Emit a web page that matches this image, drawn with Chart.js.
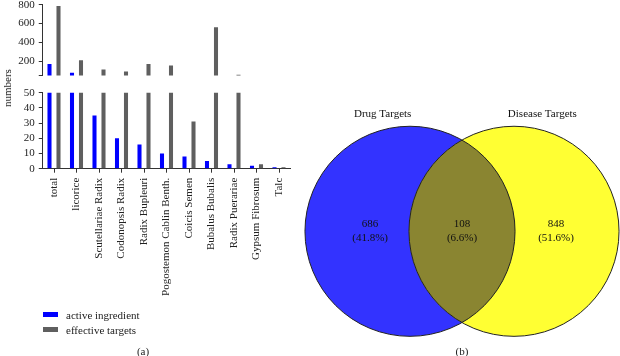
<!DOCTYPE html>
<html>
<head>
<meta charset="utf-8">
<script src="https://cdn.jsdelivr.net/npm/chart.js@4.4.0/dist/chart.umd.min.js"></script>
<style>
  html, body { margin: 0; padding: 0; background: #fff; }
  body { width: 620px; height: 356px; position: relative; overflow: hidden;
         font-family: 'Liberation Serif', 'Times New Roman', serif; color: #222; }
  canvas { position: absolute; }
  #upper { left: 0; top: -10px; }
  #lower { left: 0; top: 80px; }
  #venn { left: 300px; top: 0; }
  .ytitle { position: absolute; left: 7px; top: 88px; font-size: 11px; white-space: nowrap;
            transform: translate(-50%, -50%) rotate(-90deg); }
  .legend { position: absolute; left: 43px; top: 307.5px; font-size: 11px; }
  .legend div { height: 14.7px; display: flex; align-items: center; }
  .legend .box { display: inline-block; width: 15px; height: 5px; margin-right: 8px; }
  .cap { position: absolute; font-size: 11px; line-height: 12px; transform: translateX(-50%); }
</style>
</head>
<body>
<canvas id="upper" width="300" height="96"></canvas>
<canvas id="lower" width="300" height="229"></canvas>
<canvas id="venn" width="320" height="356"></canvas>
<div class="ytitle">numbers</div>
<div class="legend" id="legend"></div>
<div class="cap" style="left:143px;top:345px">(a)</div>
<div class="cap" style="left:462px;top:345px">(b)</div>
<script>
// panel (a): herbs and their counts
const herbs = ['total', 'licorice', 'Scutellariae Radix', 'Codonopsis Radix', 'Radix Bupleuri',
  'Pogostemon Cablin Benth.', 'Coicis Semen', 'Bubalus Bubalis', 'Radix Puerariae',
  'Gypsum Fibrosum', 'Talc'];
const activeIngredient = [171, 79, 35, 20, 16, 10, 8, 5, 3, 2, 1];
const effectiveTargets = [785, 211, 112, 92, 171, 155, 31, 562, 56, 3, 1];
const breakAt = 50;
const upperTicks = [breakAt, 200, 400, 600, 800];
const lowerTicks = [0, 10, 20, 30, 40, 50];

// panel (b): venn
const vennSets = ['Drug Targets', 'Disease Targets'];
const vennCounts = [686, 108, 848]; // drug only, shared, disease only

const BLUE = '#0000ff';
const GRAY = '#5f5f5f';
const AXIS = '#333';

Chart.defaults.font.family = "'Liberation Serif', 'Times New Roman', serif";
Chart.defaults.color = '#222';
Chart.defaults.animation = false;

function barDatasets() {
  return [
    { label: 'active ingredient', data: activeIngredient, backgroundColor: BLUE },
    { label: 'effective targets', data: effectiveTargets, backgroundColor: GRAY }
  ];
}

function yAxis(min, max, ticks, labelFn) {
  return {
    min: min, max: max,
    afterFit: s => { s.width = 42.75; },
    afterBuildTicks: s => { s.ticks = ticks.map(v => ({ value: v })); },
    grid: { drawOnChartArea: false, tickLength: 4, color: AXIS },
    border: { color: AXIS },
    ticks: { font: { size: 11 }, padding: 4, autoSkip: false, callback: labelFn }
  };
}

const common = {
  responsive: false,
  events: [],
  categoryPercentage: 0.8,
  barPercentage: 0.45,
  plugins: { legend: { display: false }, tooltip: { enabled: false } }
};

const upper = new Chart(document.getElementById('upper'), {
  type: 'bar',
  data: { labels: herbs, datasets: barDatasets() },
  options: Object.assign({}, common, {
    layout: { padding: { top: 14.7, bottom: 6, left: 0, right: 9.75 } },
    scales: {
      x: { display: false },
      y: yAxis(breakAt, 800, upperTicks, v => v === breakAt ? '' : v)
    }
  })
});

const lower = new Chart(document.getElementById('lower'), {
  type: 'bar',
  data: { labels: herbs, datasets: barDatasets() },
  options: Object.assign({}, common, {
    layout: { padding: { top: 12.7, bottom: 0.3, left: 0, right: 9.75 } },
    scales: {
      x: {
        afterFit: s => { s.height = 140; },
        grid: { drawOnChartArea: false, offset: false, tickLength: 4, color: AXIS },
        border: { color: AXIS },
        ticks: { font: { size: 11 }, padding: 5, autoSkip: false, minRotation: 90, maxRotation: 90 }
      },
      y: yAxis(0, breakAt, lowerTicks, v => v)
    }
  })
});

// html legend from the dataset list
document.getElementById('legend').innerHTML = lower.data.datasets.map(d =>
  `<div><span class="box" style="background:${d.backgroundColor}"></span>${d.label}</div>`
).join('');

// venn: set centres are points on a hidden category axis; radius = centre spacing
const vennFill = ['#3333ff', '#ffff33'];
const vennPaint = {
  id: 'vennPaint',
  afterDatasetsDraw(chart) {
    const pts = chart.getDatasetMeta(0).data;
    const sx = chart.scales.x;
    const r = (sx.getPixelForValue(1) - sx.getPixelForValue(0)) * 1.01;
    const [a, b] = pts;
    const ctx = chart.ctx;
    const circle = p => { ctx.beginPath(); ctx.arc(p.x, p.y, r, 0, Math.PI * 2); };

    ctx.save();
    pts.forEach((p, i) => { circle(p); ctx.fillStyle = vennFill[i]; ctx.fill(); });
    ctx.save();
    circle(a);
    ctx.clip();
    circle(b);
    ctx.fillStyle = '#8a8531';
    ctx.fill();
    ctx.restore();

    ctx.strokeStyle = '#222';
    ctx.lineWidth = 1;
    pts.forEach(p => { circle(p); ctx.stroke(); });

    ctx.fillStyle = '#111';
    ctx.textAlign = 'center';
    ctx.textBaseline = 'middle';
    ctx.font = "11px 'Liberation Serif', serif";
    ctx.fillText(vennSets[0], a.x - r * 0.26, a.y - r - 12);
    ctx.fillText(vennSets[1], b.x + r * 0.27, b.y - r - 12);

    const total = vennCounts.reduce((s, v) => s + v, 0);
    const xs = [a.x - r * 0.38, (a.x + b.x) / 2, b.x + r * 0.4];
    vennCounts.forEach((c, i) => {
      ctx.fillText(String(c), xs[i], a.y - 7);
      ctx.fillText('(' + (c / total * 100).toFixed(1) + '%)', xs[i], a.y + 6.5);
    });
    ctx.restore();
  }
};

new Chart(document.getElementById('venn'), {
  type: 'scatter',
  data: {
    labels: vennSets,
    datasets: [{
      data: vennSets.map(s => ({ x: s, y: 0 })),
      pointRadius: 0,
      clip: false
    }]
  },
  options: {
    responsive: false,
    events: [],
    layout: { padding: { left: 110, right: 106, top: 131.3, bottom: 24.7 } },
    scales: {
      x: { type: 'category', offset: false, display: false },
      y: { min: -1, max: 1, display: false }
    },
    plugins: { legend: { display: false }, tooltip: { enabled: false } }
  },
  plugins: [vennPaint]
});
</script>
</body>
</html>
